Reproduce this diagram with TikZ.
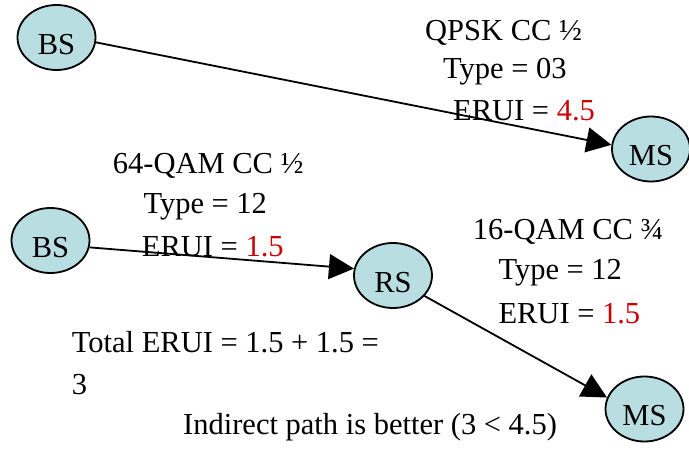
\documentclass[tikz,border=0pt]{standalone}
\usepackage{fontspec}
\setmainfont{Liberation Serif}
\usepackage{tikz}
\usetikzlibrary{arrows.meta}
\usetikzlibrary{shapes.geometric}
\definecolor{nodefill}{RGB}{184,222,226}
\definecolor{eruired}{RGB}{204,0,0}
\tikzset{
	station/.style={ellipse,draw,line width=1.8pt,fill=nodefill,minimum width=78pt,minimum height=65pt,inner sep=0pt,text height=34pt,text depth=0pt},
	lbl/.style={anchor=base west,inner sep=0pt},
	edge/.style={line width=1.8pt,-{Triangle[length=25pt,width=25pt]}}
}
\begin{document}
\begin{tikzpicture}[x=1pt,y=-1pt,font=\fontsize{30.5}{36}\selectfont]
	\useasboundingbox (0,0) rectangle (689,454);
	\node[station] (bsA) at (56.5,37.5) {BS};
	\node[station] (msA) at (651,149) {MS};
	\node[station] (bsB) at (50.5,240.5) {BS};
	\node[station] (rs) at (393,275.5) {RS};
	\node[station] (msB) at (644.5,409) {MS};
	\node[lbl] (modA) at (425,40.7) {QPSK CC ½};
	\node[lbl] (typeA) at (443,78.3) {Type = 03};
	\node[lbl] (eruiA) at (453,121) {ERUI = \textcolor{eruired}{4.5}};
	\node[lbl] (modB) at (112.7,173.3) {64-QAM CC ½};
	\node[lbl] (typeB) at (143.3,214) {Type = 12};
	\node[lbl] (eruiB) at (141.7,256.7) {ERUI = \textcolor{eruired}{1.5}};
	\node[lbl] (modC) at (472.7,240) {16-QAM CC ¾};
	\node[lbl] (typeC) at (498.3,280) {Type = 12};
	\node[lbl] (eruiC) at (498.3,323.3) {ERUI = \textcolor{eruired}{1.5}};
	\node[lbl] (total) at (71.7,353) {Total ERUI = 1.5 + 1.5 =};
	\node[lbl] (totalB) at (71.7,395) {3};
	\node[lbl] (verdict) at (183,435) {Indirect path is better (3 < 4.5)};
	\draw[edge] (bsA.-7) -- (msA.174);
	\draw[edge] (bsB.-10) -- (rs.170);
	\draw[edge] (rs.-33) -- (msB.163);
\end{tikzpicture}
\end{document}
